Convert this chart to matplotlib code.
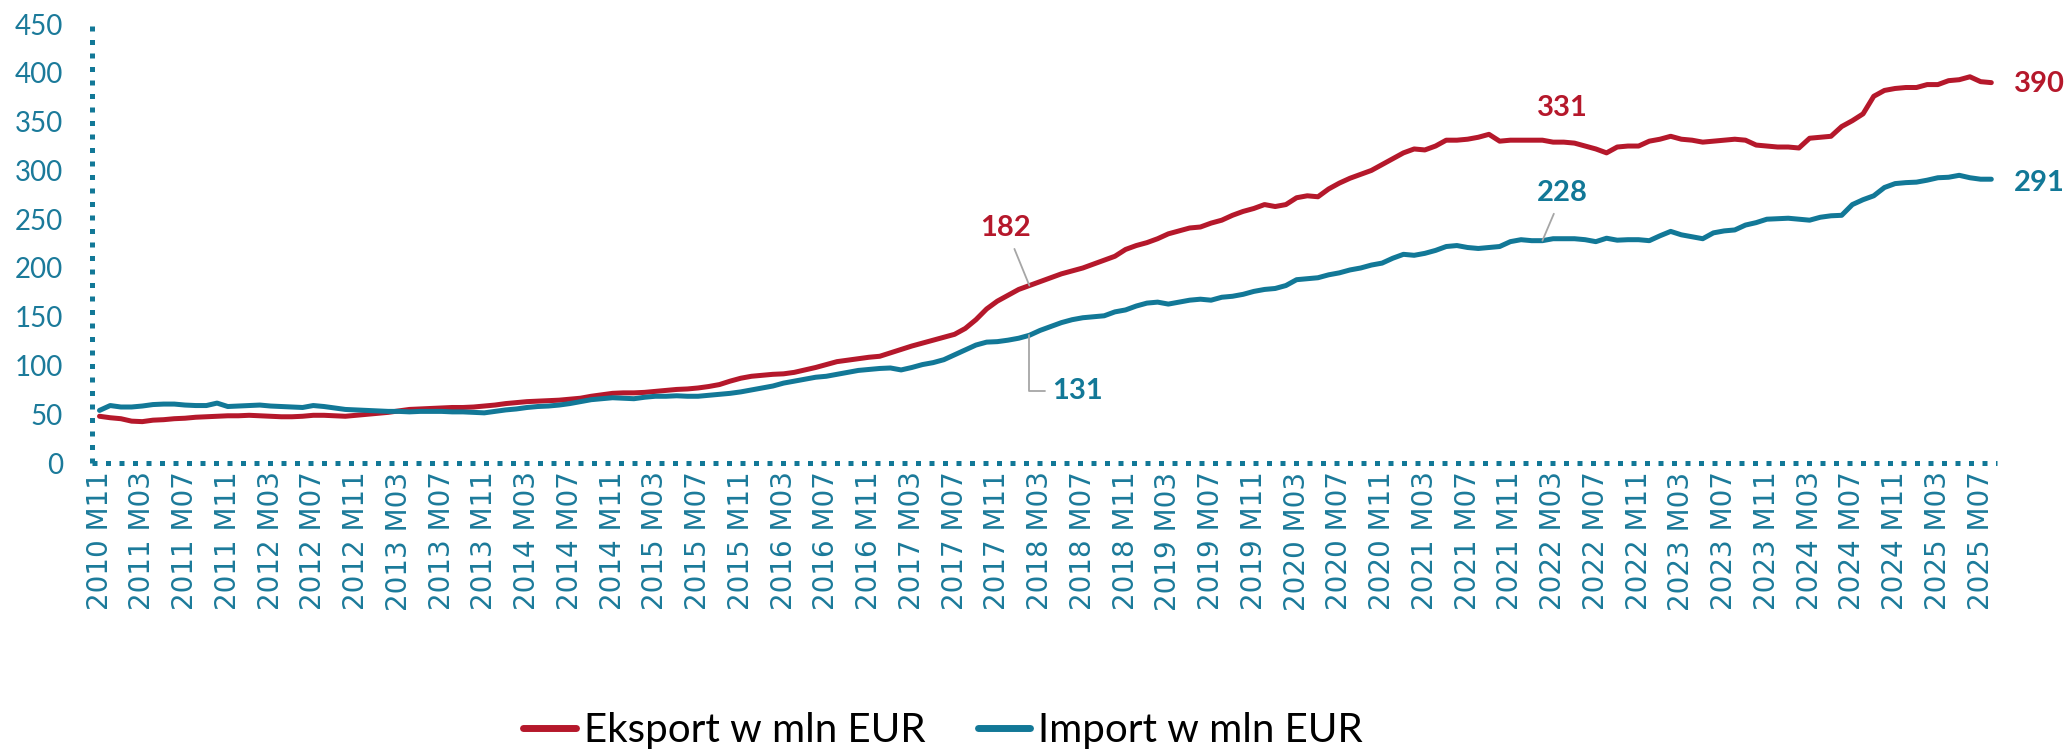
import matplotlib.pyplot as plt
import pandas as pd

# miesiace 2010 M11 .. 2025 M08
months = pd.period_range("2010-11", "2025-08", freq="M")
labels = [f"{p.year} M{p.month:02d}" for p in months]

eksport = [48, 46.5, 45.5, 43, 42.5, 44, 44.5, 45.5, 46, 47, 47.5, 48,
           48.5, 48.5, 49, 48.5, 48, 47.5, 47.5, 48, 49, 49, 48.5, 48,
           49, 50, 51, 52, 53.5, 55, 55.5, 56, 56.5, 57, 57, 57.5,
           58.5, 59.5, 61, 62, 63, 63.5, 64, 64.5, 65.5, 66.5, 68.5, 70,
           71.5, 72, 72, 72.5, 73.5, 74.5, 75.5, 76, 77, 78.5, 80.5, 84,
           87, 89, 90, 91, 91.5, 93, 95.5, 98, 101, 104, 105.5, 107,
           108.5, 109.5, 113, 116.5, 120, 123, 126, 129, 132, 138, 147, 158,
           166, 172, 178, 182, 186, 190, 194, 197, 200, 204, 208, 212,
           219, 223, 226, 230, 235, 238, 241, 242, 246, 249, 254, 258,
           261, 265, 263, 265, 272, 274, 273, 281, 287, 292, 296, 300,
           306, 312, 318, 322, 321, 325, 331, 331, 332, 334, 337, 330,
           331, 331, 331, 331, 329, 329, 328, 325, 322, 318, 324, 325,
           325, 330, 332, 335, 332, 331, 329, 330, 331, 332, 331, 326,
           325, 324, 324, 323, 333, 334, 335, 345, 351, 358, 376, 382,
           384, 385, 385, 388, 388, 392, 393, 396, 391, 390]

imp = [54, 59, 57.5, 57.5, 58.5, 60, 60.5, 60.5, 59.5, 59, 59, 61.5,
       58, 58.5, 59, 59.5, 58.5, 58, 57.5, 57, 59, 58, 56.5, 55,
       54.5, 54, 53.5, 53, 53, 52.5, 53, 53, 53, 52.5, 52.5, 52,
       51.5, 53, 54.5, 55.5, 57, 58, 58.5, 59.5, 61, 63, 65, 66,
       67, 66.5, 66, 67.5, 68.5, 68.5, 69, 68.5, 68.5, 69.5, 70.5, 71.5,
       73, 75, 77, 79, 82, 84, 86, 88, 89, 91, 93, 95,
       96, 97, 97.5, 95.5, 98, 101, 103, 106, 111, 116, 121, 124,
       124.5, 126, 128, 131, 136, 140, 144, 147, 149, 150, 151, 155,
       157, 161, 164, 165, 163, 165, 167, 168, 167, 170, 171, 173,
       176, 178, 179, 182, 188, 189, 190, 193, 195, 198, 200, 203,
       205, 210, 214, 213, 215, 218, 222, 223, 221, 220, 221, 222,
       227, 229, 228, 228, 230, 230, 230, 229, 227, 230.5, 228.5, 229,
       229, 228, 233, 237.5, 234, 232, 230, 236, 238, 239, 244, 246.5,
       250, 250.5, 251, 250, 249, 252, 253.5, 254, 265, 270, 274, 282.5,
       286.5, 287.5, 288, 290, 292.5, 293, 295, 292.5, 291, 291]

red = "#B5182B"
blue = "#127897"
tick_col = "#1B7A9A"
grey = "#A6A6A6"

fig = plt.figure(figsize=(20.68, 7.53), dpi=100)
ax = fig.add_axes([0.0445, 0.385, 0.921, 0.583])

x = list(range(len(labels)))
ax.plot(x, eksport, color=red, lw=3.6, solid_capstyle="round", label="Eksport w mln EUR")
ax.plot(x, imp, color=blue, lw=3.6, solid_capstyle="round", label="Import w mln EUR")

ax.set_xlim(-0.7, 177.5)
ax.set_ylim(0, 450)
ax.set_yticks(range(0, 451, 50))
ax.set_xticks(x[::4])
ax.set_xticklabels(labels[::4], rotation=90, fontsize=20, family="DejaVu Sans", color=tick_col)
for t in ax.get_yticklabels():
    t.set_family("Lato")
    t.set_fontsize(20)
    t.set_color(tick_col)
ax.tick_params(axis="y", length=0, pad=21)
ax.tick_params(axis="x", length=0, pad=6)

for s in ["top", "right"]:
    ax.spines[s].set_visible(False)
for s in ["left", "bottom"]:
    ax.spines[s].set_color(blue)
    ax.spines[s].set_linewidth(3.6)
    ax.spines[s].set_linestyle((0, (1, 1.7)))
    ax.spines[s].set_capstyle("butt")

# etykiety wartosci
i1, i2, n = 87, 135, len(eksport) - 1
lab_font = dict(family="Lato", fontsize=21, fontweight="bold")
ax.annotate(f"{eksport[i1]:.0f}", xy=(i1, eksport[i1]), xytext=(84.8, 241), color=red,
            ha="center", va="center", arrowprops=dict(arrowstyle="-", color=grey, lw=1.3,
                                                      shrinkA=4, shrinkB=0), **lab_font)
ax.annotate(f"{imp[i1]:.0f}", xy=(i1, imp[i1]), xytext=(91.5, 74), color=blue,
            ha="center", va="center",
            arrowprops=dict(arrowstyle="-", color=grey, lw=1.3, shrinkA=3, shrinkB=0,
                            connectionstyle="angle,angleA=0,angleB=90,rad=0"), **lab_font)
ax.annotate(f"{eksport[i2]:.0f}", xy=(i2, eksport[i2]), xytext=(136.9, 364), color=red,
            ha="center", va="center", **lab_font)
ax.annotate(f"{imp[i2]:.0f}", xy=(i2, imp[i2]), xytext=(136.9, 277), color=blue,
            ha="center", va="center", arrowprops=dict(arrowstyle="-", color=grey, lw=1.3,
                                                      shrinkA=4, shrinkB=0), **lab_font)
ax.annotate(f"{eksport[n]:.0f}", xy=(n, eksport[n]), xytext=(179.1, 388.5), color=red,
            ha="left", va="center", annotation_clip=False, **lab_font)
ax.annotate(f"{imp[n]:.0f}", xy=(n, imp[n]), xytext=(179.1, 287), color=blue,
            ha="left", va="center", annotation_clip=False, **lab_font)

fig.legend(loc="center", bbox_to_anchor=(0.456, 0.03), ncol=2, frameon=False,
           prop=dict(family="Lato", size=29), handlelength=1.3, handletextpad=0.2,
           columnspacing=1.3)
for l in fig.legends[0].get_lines():
    l.set_linewidth(5)

fig.savefig("out.png", dpi=100)
